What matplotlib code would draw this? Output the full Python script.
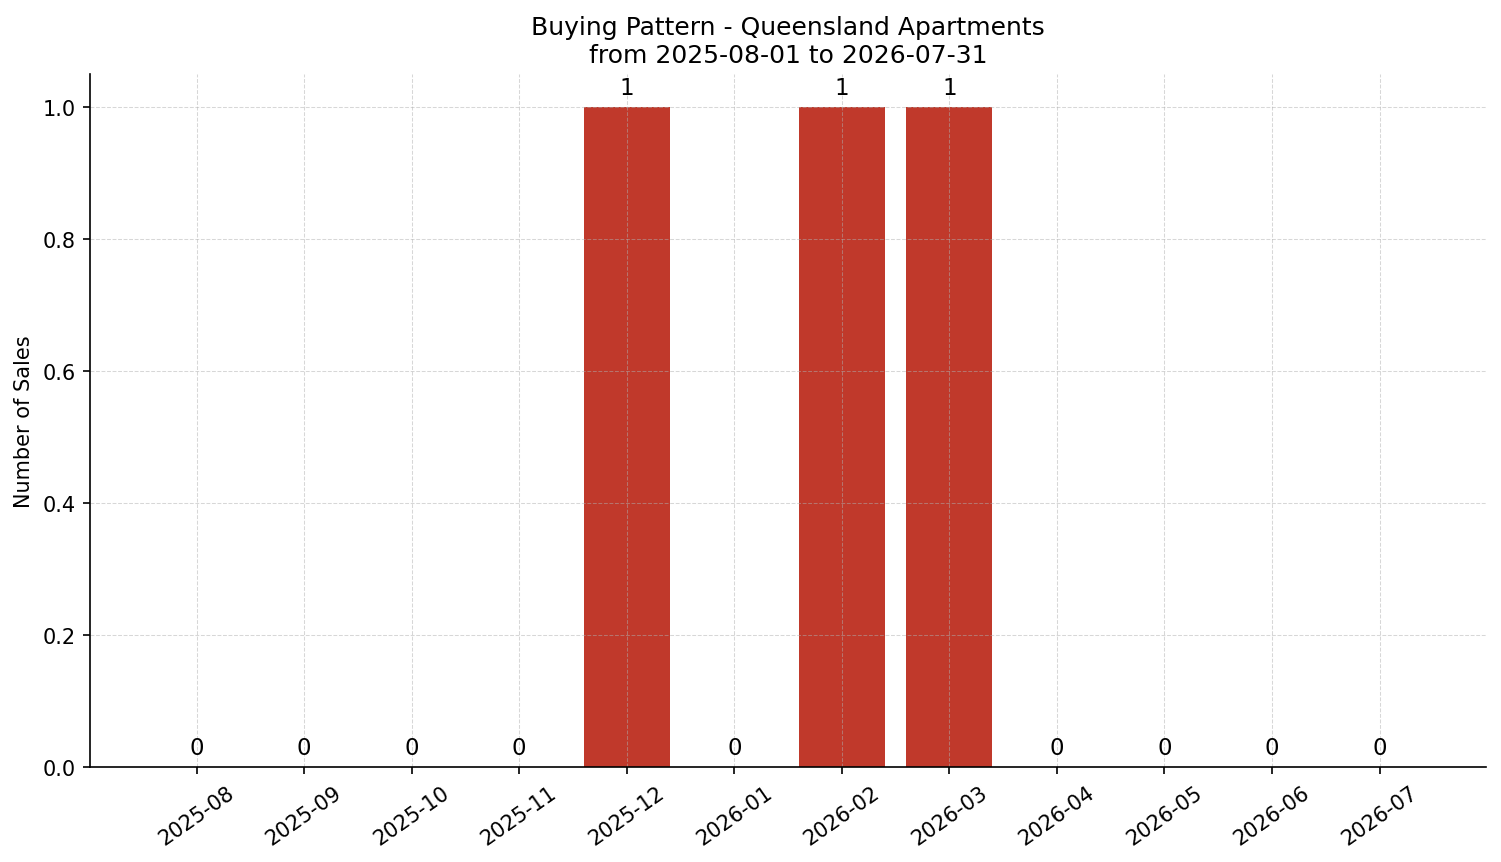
import matplotlib
matplotlib.use("Agg")
import matplotlib.pyplot as plt

months = ["2025-08", "2025-09", "2025-10", "2025-11", "2025-12", "2026-01",
          "2026-02", "2026-03", "2026-04", "2026-05", "2026-06", "2026-07"]
sales = [0, 0, 0, 0, 1, 0, 1, 1, 0, 0, 0, 0]

fig, ax = plt.subplots(figsize=(10.007, 5.753), dpi=150)
x = range(len(months))
bars = ax.bar(x, sales, width=0.8, color="#c0392b")
for b, v in zip(bars, sales):
    ax.annotate(str(v), (b.get_x() + b.get_width() / 2, v),
                xytext=(0, 4), textcoords="offset points",
                ha="center", va="bottom", fontsize=11)

ax.set_xticks(list(x))
ax.set_xticklabels(months, rotation=35)
ax.set_ylabel("Number of Sales")
ax.set_title("Buying Pattern - Queensland Apartments\nfrom 2025-08-01 to 2026-07-31",
             fontsize=12)
ax.grid(True, linestyle="--", linewidth=0.5, alpha=0.5)
ax.spines["top"].set_visible(False)
ax.spines["right"].set_visible(False)

fig.subplots_adjust(left=0.06, right=0.99, top=0.913, bottom=0.110)
fig.savefig("out.png", dpi=150)
